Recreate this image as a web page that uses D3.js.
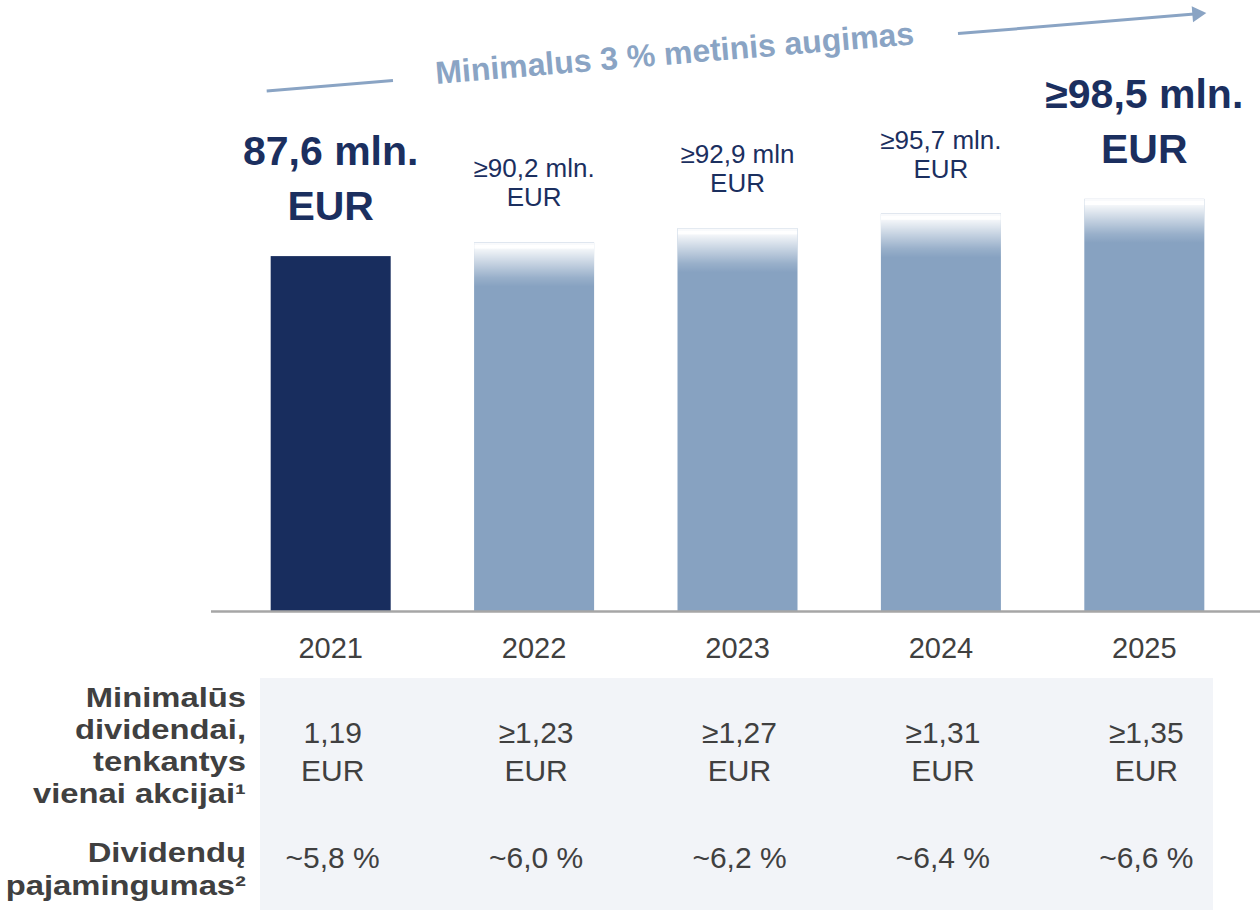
<!DOCTYPE html>
<html>
<head>
<meta charset="utf-8">
<script src="https://cdn.jsdelivr.net/npm/d3@7"></script>
<style>
  html, body { margin: 0; padding: 0; background: #ffffff; }
  svg { display: block; font-family: "Liberation Sans", Arial, sans-serif; }
</style>
</head>
<body>
<svg id="chart" width="1260" height="910"></svg>
<script>
// Minimum dividend plan, 2021–2025
const years = ["2021", "2022", "2023", "2024", "2025"];
const totalDividends = [87.6, 90.2, 92.9, 95.7, 98.5];           // mln. EUR
const totalLabels = ["87,6 mln.", "≥90,2 mln.", "≥92,9 mln", "≥95,7 mln.", "≥98,5 mln."];
const highlighted = [true, false, false, false, true];            // bold, large labels
const isActual = [true, false, false, false, false];              // paid vs. planned
const perShare = ["1,19", "≥1,23", "≥1,27", "≥1,31", "≥1,35"];
const dividendYield = ["~5,8 %", "~6,0 %", "~6,2 %", "~6,4 %", "~6,6 %"];
const rowTitlePerShare = ["Minimalūs", "dividendai,", "tenkantys", "vienai akcijai¹"];
const rowTitleYield = ["Dividendų", "pajamingumas²"];
const growthText = "Minimalus 3 % metinis augimas";

const navy = "#182d5e";
const labelNavy = "#1b2f5f";
const steel = "#87a2c1";
const arrowBlue = "#8aa4c4";
const grey = "#404040";

const svg = d3.select("#chart");

const x = d3.scaleBand().domain(years)
  .range([230, 1245]).paddingInner(0.41).paddingOuter(0.2);
const y = d3.scaleLinear().domain([20, 100]).range([611, 191]);

// white haze laid over the top of planned bars
const defs = svg.append("defs");
const grad = defs.append("linearGradient").attr("id", "fadeTop")
  .attr("x1", 0).attr("y1", 0).attr("x2", 0).attr("y2", 1);
[[0, 0.95], [0.05, 0.95], [0.06, 1], [0.13, 1], [0.15, 0.9], [0.45, 0.55], [0.8, 0.15], [1, 0]]
  .forEach(([o, a]) => grad.append("stop").attr("offset", o)
    .attr("stop-color", "#ffffff").attr("stop-opacity", a));

// table background
svg.append("rect").attr("x", 260).attr("y", 678).attr("width", 953).attr("height", 232)
  .attr("fill", "#f2f4f8");

// bars
const fadeH = 44;
const data = years.map((yr, i) => ({ yr, v: totalDividends[i], i }));
const bars = svg.append("g");
data.forEach(d => {
  const top = y(d.v), base = y(20);
  bars.append("rect").attr("x", x(d.yr)).attr("y", top)
    .attr("width", x.bandwidth()).attr("height", base - top)
    .attr("fill", isActual[d.i] ? navy : steel);
  if (!isActual[d.i]) {
    bars.append("rect").attr("x", x(d.yr)).attr("y", top)
      .attr("width", x.bandwidth()).attr("height", fadeH).attr("fill", "url(#fadeTop)");
  }
});

// baseline + year labels
svg.append("line").attr("x1", 211).attr("x2", 1260).attr("y1", 611.5).attr("y2", 611.5)
  .attr("stroke", "#a6a6a6").attr("stroke-width", 2.5);
const xAxis = svg.append("g").attr("transform", "translate(0,611)")
  .call(d3.axisBottom(x).tickSize(0).tickPadding(0));
xAxis.select(".domain").remove();
xAxis.selectAll("text").attr("dy", null).attr("y", 47)
  .attr("font-size", 29).attr("fill", grey)
  .attr("font-family", "'Liberation Sans', Arial, sans-serif");

// value labels above bars
data.forEach(d => {
  const cx = x(d.yr) + x.bandwidth() / 2;
  const big = highlighted[d.i];
  const eurY = y(d.v) - 36;
  const lineGap = big ? 55 : 29;
  const t = svg.append("text").attr("text-anchor", "middle").attr("fill", labelNavy)
    .attr("font-size", big ? 41 : 26).attr("font-weight", big ? "bold" : "normal");
  t.append("tspan").attr("x", cx).attr("y", eurY - lineGap).text(totalLabels[d.i]);
  t.append("tspan").attr("x", cx).attr("y", eurY).text("EUR");
});

// growth arrow across the bars
const ax0 = x(years[0]) - 4, ax1 = x(years[years.length - 1]) + x.bandwidth() + 2;
const ay0 = 91, ay1 = 13;
const slope = (ay1 - ay0) / (ax1 - ax0);
const lineAt = px => ay0 + (px - ax0) * slope;
const gapL = 393, gapR = 958;
const ag = svg.append("g").attr("stroke", arrowBlue).attr("stroke-width", 3).attr("fill", "none");
ag.append("line").attr("x1", ax0).attr("y1", lineAt(ax0)).attr("x2", gapL).attr("y2", lineAt(gapL));
ag.append("line").attr("x1", gapR).attr("y1", lineAt(gapR)).attr("x2", ax1 - 12).attr("y2", lineAt(ax1 - 12));
const ang = Math.atan(slope) * 180 / Math.PI;
svg.append("path")
  .attr("d", "M0,0 L-14,-8 L-14,8 Z")
  .attr("fill", arrowBlue)
  .attr("transform", `translate(${ax1},${lineAt(ax1)}) rotate(${ang})`);
const tcx = (gapL + gapR) / 2;
svg.append("text")
  .attr("transform", `translate(${tcx},${lineAt(tcx) + 7}) rotate(${ang})`)
  .attr("text-anchor", "middle").attr("font-size", 32).attr("font-weight", "bold")
  .attr("fill", arrowBlue).text(growthText);

// table rows: titles on the left, wide bold lettering
const rowTitles = svg.append("g").attr("text-anchor", "end").attr("fill", grey)
  .attr("font-size", 28).attr("font-weight", "bold");
const titleLine = (s, ty) => rowTitles.append("text")
  .attr("transform", `translate(246,${ty}) scale(1.17,1)`).attr("x", 0).text(s);
rowTitlePerShare.forEach((s, i) => titleLine(s, 707 + i * 32));
rowTitleYield.forEach((s, i) => titleLine(s, 862 + i * 33));

const cells = svg.append("g").attr("text-anchor", "middle").attr("fill", grey).attr("font-size", 30);
years.forEach((yr, i) => {
  const cx = x(yr) + x.bandwidth() / 2 + 2;
  cells.append("text").attr("x", cx).attr("y", 743).text(perShare[i]);
  cells.append("text").attr("x", cx).attr("y", 781).text("EUR");
  cells.append("text").attr("x", cx).attr("y", 868).text(dividendYield[i]);
});
</script>
</body>
</html>
